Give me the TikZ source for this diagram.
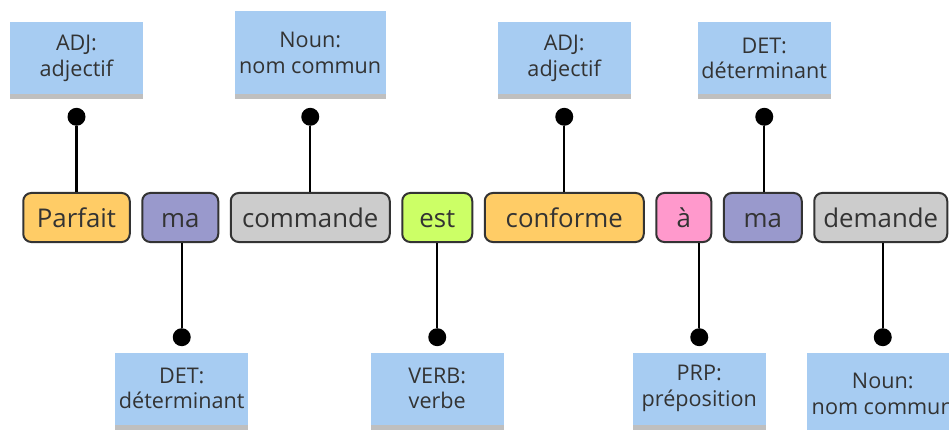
\documentclass[tikz,border=0pt]{standalone}
\usepackage{fontspec}
\setmainfont{Open Sans}
\usetikzlibrary{positioning}
\definecolor{notebg}{RGB}{167, 204, 242}
\definecolor{adjcol}{RGB}{255, 204, 102}
\definecolor{detcol}{RGB}{153, 153, 204}
\definecolor{nouncol}{RGB}{204, 204, 204}
\definecolor{verbcol}{RGB}{204, 255, 102}
\definecolor{prpcol}{RGB}{255, 153, 204}
\definecolor{inkgray}{RGB}{51, 51, 51}

\begin{document}
\begin{tikzpicture}[
  x=1pt, y=1pt,
  node distance=10.5pt,
  word/.style={rectangle, rounded corners=8pt, draw=inkgray, line width=2pt,
               minimum height=49pt, inner sep=0pt, text height=19.5pt, text depth=0pt,
               text=inkgray, font=\fontsize{25.8}{30}\selectfont},
  note/.style={rectangle, fill=notebg, minimum width=133pt, minimum height=72pt,
               align=center, text=inkgray, font=\fontsize{21.6}{25.5}\selectfont,
               preaction={fill=black, fill opacity=0.25,
                          transform canvas={yshift=-5pt}}},
  widenote/.style={note, minimum width=151pt, minimum height=83pt},
  tack/.style={circle, fill=black, minimum size=18pt, inner sep=0pt},
  stem/.style={line width=2.2pt, black}
]
  \useasboundingbox (0,0) rectangle (949,-430);

  % the sentence
  \node[word, fill=adjcol, minimum width=106.5pt] (w1) at (76.5,-217.5) {Parfait};
  \node[word, fill=detcol, minimum width=76pt, right=of w1] (w2) {ma};
  \node[word, fill=nouncol, minimum width=159pt, right=of w2] (w3) {commande};
  \node[word, fill=verbcol, minimum width=70pt, right=of w3] (w4) {est};
  \node[word, fill=adjcol, minimum width=159pt, right=of w4] (w5) {conforme};
  \node[word, fill=prpcol, minimum width=55pt, right=of w5] (w6) {à};
  \node[word, fill=detcol, minimum width=78pt, right=of w6] (w7) {ma};
  \node[word, fill=nouncol, minimum width=133pt, right=of w7] (w8) {demande};

  % tags above
  \node[tack, above=66pt of w1] (t1) {};
  \node[note, above=13pt of t1] (n1) {ADJ:\\adjectif};
  \node[tack, above=66pt of w3] (t3) {};
  \node[widenote, above=13pt of t3] (n3) {Noun:\\nom commun};
  \node[tack, above=66pt of w5] (t5) {};
  \node[note, above=13pt of t5] (n5) {ADJ:\\adjectif};
  \node[tack, above=66pt of w7, xshift=1.5pt] (t7) {};
  \node[note, above=13pt of t7] (n7) {DET:\\déterminant};

  % tags below
  \node[tack, below=85pt of w2, xshift=1.5pt] (b2) {};
  \node[note, below=6pt of b2] (m2) {DET:\\déterminant};
  \node[tack, below=85pt of w4] (b4) {};
  \node[note, below=6pt of b4] (m4) {VERB:\\verbe};
  \node[tack, below=85pt of w6, xshift=15.5pt] (b6) {};
  \node[note, below=6pt of b6] (m6) {PRP:\\préposition};
  \node[tack, below=85pt of w8, xshift=2pt] (b8) {};
  \node[widenote, below=6pt of b8] (m8) {Noun:\\nom commun};

  \draw[stem] (t1) -- (t1 |- w1.north);
  \draw[stem] (t3) -- (t3 |- w3.north);
  \draw[stem] (t5) -- (t5 |- w5.north);
  \draw[stem] (t7) -- (t7 |- w7.north);
  \draw[stem] (b2) -- (b2 |- w2.south);
  \draw[stem] (b4) -- (b4 |- w4.south);
  \draw[stem] (b6) -- (b6 |- w6.south);
  \draw[stem] (b8) -- (b8 |- w8.south);
\end{tikzpicture}
\end{document}
